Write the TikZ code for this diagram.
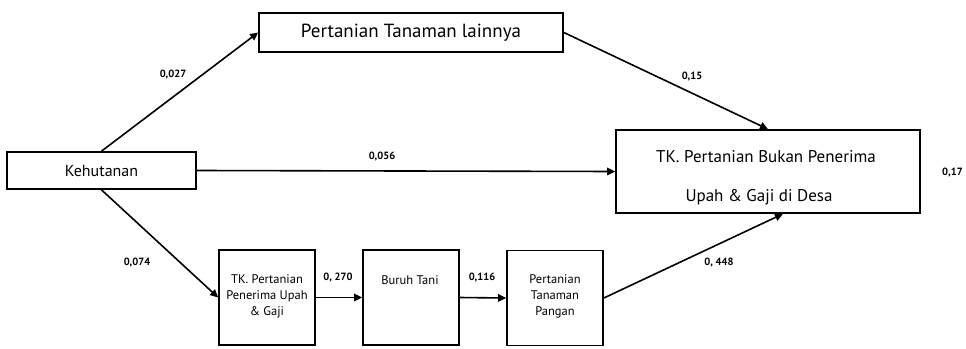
\documentclass[tikz,border=0pt]{standalone}
\usepackage{fontspec}
\setmainfont{PT Sans}
\usetikzlibrary{arrows.meta}
\begin{document}
\begin{tikzpicture}[x=1pt,y=-1pt,
  box/.style={draw, line width=1.7pt, inner sep=0pt, anchor=center},
  smallbox/.style={box, minimum width=96pt, minimum height=95pt},
  smalltxt/.style={font=\fontsize{12.5}{16}\selectfont, align=center, inner sep=0pt},
  bigtxt/.style={font=\fontsize{17}{20}\selectfont, inner sep=0pt},
  conn/.style={line width=1.6pt, -{Triangle[length=8pt,width=7.5pt]}},
  lbl/.style={font=\fontsize{10.5}{12}\selectfont\bfseries, inner sep=0pt}]
\useasboundingbox (0,0) rectangle (966,348);
\node[box, minimum width=304pt, minimum height=39pt, font=\fontsize{19}{22}\selectfont] (lain) at (411,32.5) {Pertanian Tanaman lainnya};
\node[box, minimum width=189pt, minimum height=37pt, font=\fontsize{16}{18}\selectfont] (kehut) at (101.5,170.5) {Kehutanan};
\node[box, minimum width=304pt, minimum height=83pt] (bukan) at (768,171.5) {};
\node[bigtxt] (bk1) at (766,157) {TK. Pertanian Bukan Penerima};
\node[bigtxt] (bk2) at (759,197) {Upah \& Gaji di Desa};
\node[smallbox] (pu) at (267,297.5) {};
\node[smallbox] (buruh) at (411,297.5) {};
\node[smallbox] (pangan) at (555,298) {};
\node[smalltxt] (putxt) at (267,296) {TK. Pertanian\\Penerima Upah\\\& Gaji};
\node[smalltxt] (burtxt) at (410,280) {Buruh Tani};
\node[smalltxt] (pantxt) at (555,296) {Pertanian\\Tanaman\\Pangan};
\draw[conn] (kehut.north) -- (lain.west);
\draw[conn] (lain.east) -- (bukan.north);
\draw[conn] (kehut.east) -- (bukan.west);
\draw[conn] (kehut.south) -- (pu.west);
\draw[conn] (pu.east) -- (buruh.west);
\draw[conn] (buruh.east) -- (pangan.west);
\draw[conn] (pangan.east) -- ([xshift=15pt]bukan.south);
\node[lbl] (l1) at (173,75) {0,027};
\node[lbl] (l2) at (692,77) {0,15};
\node[lbl] (l3) at (382,157) {0,056};
\node[lbl] (l4) at (137,263) {0,074};
\node[lbl] (l5) at (338,278) {0, 270};
\node[lbl] (l6) at (482,278) {0,116};
\node[lbl] (l7) at (719,263) {0, 448};
\node[lbl, anchor=west] (l8) at (942,173) {0,17};
\end{tikzpicture}
\end{document}
